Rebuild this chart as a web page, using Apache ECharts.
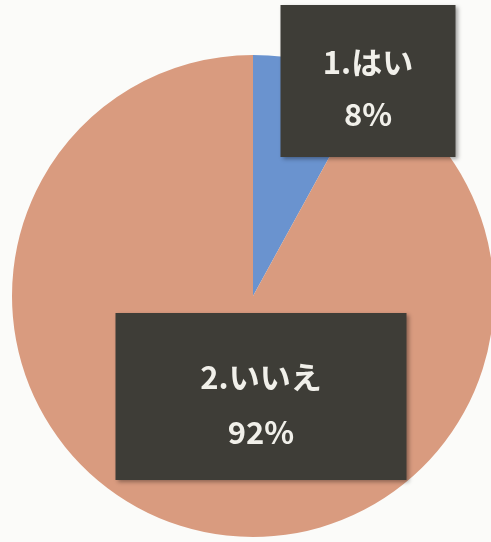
<!DOCTYPE html>
<html>
<head>
<meta charset="utf-8">
<script src="https://cdn.jsdelivr.net/npm/echarts@6/dist/echarts.min.js"></script>
<style>
  html, body { margin: 0; padding: 0; background: #fbfbf9; }
  #chart { width: 491px; height: 542px; }
</style>
</head>
<body>
<div id="chart"></div>
<script>
// answers and their share (%)
const categories = ["1.はい", "2.いいえ"];
const values = [8, 92];
const colors = ["#6a93cf", "#d99b7f"];

const chart = echarts.init(document.getElementById("chart"));

// label boxes: size, padding (text sits a bit low in the box), centre x and top y
const boxes = [
  { width: 175, padding: [31, 0, 17, 0], cx: 368, top: 5 },
  { width: 291, padding: [37, 0, 20, 0], cx: 261, top: 313 },
];

const option = {
  backgroundColor: "#fbfbf9",
  animation: false,
  series: [
    {
      type: "pie",
      center: [253, 296],
      radius: 241,
      startAngle: 90,
      clockwise: true,
      labelLine: { show: false },
      itemStyle: { borderWidth: 0 },
      label: {
        show: true,
        position: "inside",
        formatter: "{b}\n{d}%",
        color: "#f1f0ea",
        fontFamily: "Noto Sans CJK JP",
        fontSize: 31,
        fontWeight: "bold",
        backgroundColor: "#3e3d37",
        align: "center",
        verticalAlign: "top",
        shadowBlur: 4,
        shadowOffsetX: 2,
        shadowOffsetY: 2,
        shadowColor: "rgba(0,0,0,0.35)",
      },
      data: categories.map((name, i) => ({
        name: name,
        value: values[i],
        itemStyle: { color: colors[i] },
        label: {
          width: boxes[i].width,
          padding: boxes[i].padding,
          lineHeight: i === 0 ? 52 : 55,
        },
      })),
    },
  ],
};

option.series[0].labelLayout = function (params) {
  const b = boxes[params.dataIndex];
  return { x: b.cx, y: b.top, align: "center", verticalAlign: "top" };
};

chart.setOption(option);
</script>
</body>
</html>
